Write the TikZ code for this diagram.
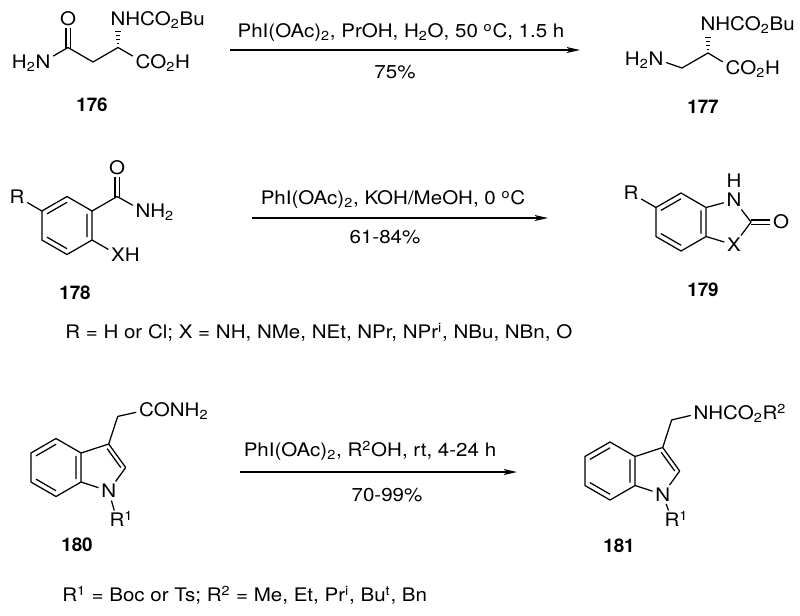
\documentclass[tikz,border=0pt]{standalone}
\usepackage{fontspec}
\setmainfont{TeX Gyre Heros}[FakeStretch=1.1]
\newfontfamily\numfont{TeX Gyre Heros}
\usetikzlibrary{calc,arrows.meta}
\tikzset{
  bond/.style={line width=0.75pt, line join=round},
  dbond/.style={bond, double, double distance=1.8pt},
  atom/.style={inner sep=1.5pt, text height=8pt, text depth=0pt},
  cond/.style={inner sep=0pt, text height=8pt, text depth=0pt},
  note/.style={cond, anchor=west},
  cmpd/.style={cond, font=\numfont\bfseries\fontsize{11.3}{13}\selectfont},
  rxn/.style={line width=0.7pt, -{Stealth[length=8pt,width=3.6pt,inset=2pt]}}
}
\begin{document}
\begin{tikzpicture}[x=0.6pt, y=-0.6pt, font=\fontsize{11.2}{13}\selectfont]
\useasboundingbox (0,0) rectangle (800,615);

\foreach \m/\cx/\cy in {p/67/225.5, q/681/222, s/56/467.5, u/610/471} {
  \coordinate (\m0) at (\cx,\cy);
  \coordinate (\m1) at (\cx,\cy-29);
  \coordinate (\m2) at (\cx+25.1,\cy-14.5);
  \coordinate (\m3) at (\cx+25.1,\cy+14.5);
  \coordinate (\m4) at (\cx,\cy+29);
  \coordinate (\m5) at (\cx-25.1,\cy+14.5);
  \coordinate (\m6) at (\cx-25.1,\cy-14.5);
  \draw[bond] (\m1) -- (\m2) -- (\m3) -- (\m4) -- (\m5) -- (\m6) -- cycle;
  \draw[bond] ($(\m6)!.2!(\m0)$) -- ($(\m1)!.2!(\m0)$)
              ($(\m2)!.2!(\m0)$) -- ($(\m3)!.2!(\m0)$)
              ($(\m5)!.2!(\m0)$) -- ($(\m4)!.2!(\m0)$);
}

\coordinate (ak) at (68,47.5);
\coordinate (am) at (93,62);
\coordinate (aa) at (118,47.5);
\node[atom] (ao) at (68,18.5) {O};
\node[atom] (an) at (43,62) {\llap{H\textsubscript{2}}N};
\node[atom] (ab) at (118,18.5) {N\rlap{HCO\textsubscript{2}Bu}};
\node[atom] (ac) at (143,62) {C\rlap{O\textsubscript{2}H}};
\draw[dbond] (ak) -- (ao);
\draw[bond] (an) -- (ak) -- (am) -- (aa) -- (ac);
\foreach \k in {1,...,4}
  \draw[bond,line width=0.6pt] ($(aa)!\k/5!(ab.south)$) ++(-0.5-0.6*\k,0) -- ++(1+1.2*\k,0);
\node[cmpd] (l176) at (92,105) {176};

\coordinate (st1) at (230,50);
\coordinate (en1) at (580,50);
\draw[rxn] (st1) -- (en1);
\node[cond] (r1) at (401,31) {PhI(OAc)\textsubscript{2}, PrOH, H\textsubscript{2}O, 50 \textsuperscript{o}C, 1.5 h};
\node[cond] (y1) at (395,72) {75\%};

\coordinate (bm) at (682,68);
\coordinate (ba) at (708,53);
\node[atom] (bn) at (656,59) {\llap{H\textsubscript{2}}N};
\node[atom] (bb) at (708,24) {N\rlap{HCO\textsubscript{2}Bu}};
\node[atom] (bc) at (733,68) {C\rlap{O\textsubscript{2}H}};
\draw[bond] (bn) -- (bm) -- (ba) -- (bc);
\foreach \k in {1,...,4}
  \draw[bond,line width=0.6pt] ($(ba)!\k/5!(bb.south)$) ++(-0.5-0.6*\k,0) -- ++(1+1.2*\k,0);
\node[cmpd] (l177) at (703,107) {177};

\coordinate (pk) at (117.2,196.5);
\node[atom] (pr) at (17,196.5) {R};
\node[atom] (po) at (117.2,167.5) {O};
\node[atom] (pn) at (143,211) {N\rlap{H\textsubscript{2}}};
\node[atom] (px) at (118,255) {X\rlap{H}};
\draw[dbond] (pk) -- (po);
\draw[bond] (pr) -- (p6);
\draw[bond] (p2) -- (pk) -- (pn);
\draw[bond] (p3) -- (px);
\node[cmpd] (l178) at (75,293) {178};

\coordinate (st2) at (252,218);
\coordinate (en2) at (548,218);
\draw[rxn] (st2) -- (en2);
\node[cond] (r2) at (393,198) {PhI(OAc)\textsubscript{2}, KOH/MeOH, 0 \textsuperscript{o}C};
\node[cond] (y2) at (385,237) {61-84\%};

\coordinate (qk) at (751,222);
\node[atom] (qr) at (631,193) {R};
\node[atom] (qn) at (734,200) {N};
\node[atom] (qh) at (734,181) {H};
\node[atom] (qo) at (781,222) {O};
\node[atom] (qx) at (734,245) {X};
\draw[dbond] (qk) -- (qo);
\draw[bond] (qr) -- (q6);
\draw[bond] (q2) -- (qn) -- (qk) -- (qx) -- (q3);
\node[cmpd] (l179) at (703,290) {179};

\node[note] (t1) at (65,332) {R = H or Cl; X = NH, NMe, NEt, NPr, NPr\textsuperscript{i}, NBu, NBn, O};

\coordinate (sc) at (108.7,444);
\coordinate (sb) at (125.7,467.5);
\coordinate (sp) at (101,467.5);
\coordinate (sm) at (117.7,416.4);
\node[atom] (sn) at (108.7,491) {N};
\node[atom] (sa) at (146.5,410) {C\rlap{ONH\textsubscript{2}}};
\node[atom] (sr) at (117,520) {R\rlap{\textsuperscript{1}}};
\draw[bond] (s2) -- (sc) -- (sb) -- (sn) -- (s3);
\draw[bond] ($(sc)!.2!(sp)$) -- ($(sb)!.2!(sp)$);
\draw[bond] (sc) -- (sm) -- (sa);
\draw[bond] (sn) -- (sr);
\node[cmpd] (l180) at (77,545) {180};

\coordinate (st3) at (240,472);
\coordinate (en3) at (517,472);
\draw[rxn] (st3) -- (en3);
\node[cond] (r3) at (370,450) {PhI(OAc)\textsubscript{2}, R\textsuperscript{2}OH, rt, 4-24 h};
\node[cond] (y3) at (387,495) {70-99\%};

\coordinate (uc) at (662.7,447.5);
\coordinate (ub) at (679.7,471);
\coordinate (up) at (655,471);
\coordinate (um) at (671.7,419.9);
\node[atom] (un) at (662.7,494.5) {N};
\node[atom] (ua) at (701,413) {N\rlap{HCO\textsubscript{2}R\textsuperscript{2}}};
\node[atom] (ur) at (672,520) {R\rlap{\textsuperscript{1}}};
\draw[bond] (u2) -- (uc) -- (ub) -- (un) -- (u3);
\draw[bond] ($(uc)!.2!(up)$) -- ($(ub)!.2!(up)$);
\draw[bond] (uc) -- (um) -- (ua);
\draw[bond] (un) -- (ur);
\node[cmpd] (l181) at (619,546) {181};

\node[note] (t2) at (62,595) {R\textsuperscript{1} = Boc or Ts; R\textsuperscript{2} = Me, Et, Pr\textsuperscript{i}, Bu\textsuperscript{t}, Bn};
\end{tikzpicture}
\end{document}
